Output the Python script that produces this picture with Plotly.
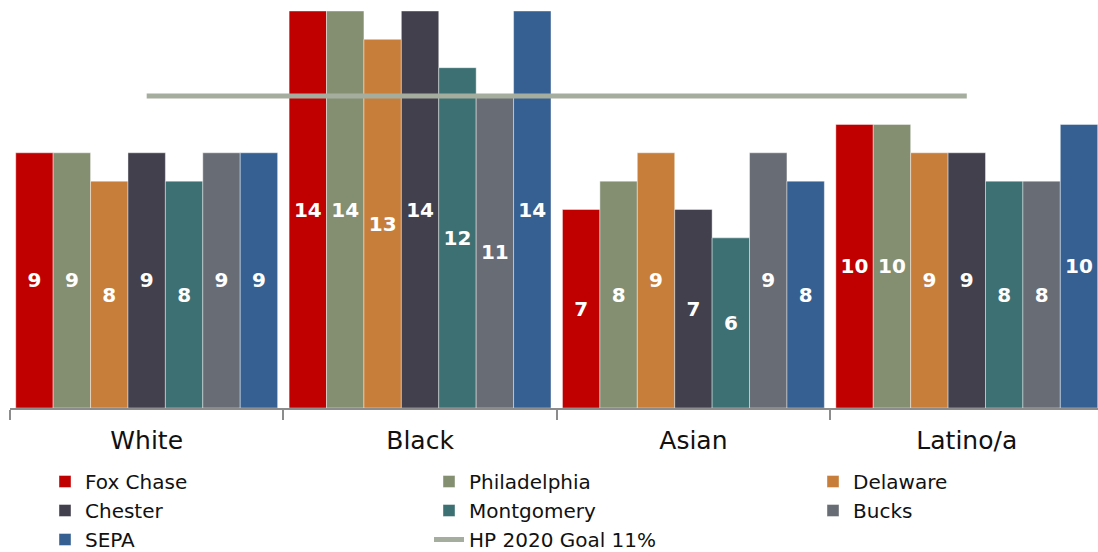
import plotly.graph_objects as go

categories = ["White", "Black", "Asian", "Latino/a"]
series_names = ["Fox Chase", "Philadelphia", "Delaware", "Chester", "Montgomery", "Bucks", "SEPA"]
fox_chase = [9, 14, 7, 10]
philadelphia = [9, 14, 8, 10]
delaware = [8, 13, 9, 9]
chester = [9, 14, 7, 9]
montgomery = [8, 12, 6, 8]
bucks = [9, 11, 9, 8]
sepa = [9, 14, 8, 10]
goal_name = "HP 2020 Goal 11%"
goal_values = [11, 11, 11, 11]

colors = ["#C00000", "#848F72", "#C67E3A", "#43404D", "#3C7073", "#686C74", "#366092"]
goal_color = "#A5AE9E"
FONT = "Century Gothic, DejaVu Sans, sans-serif"
# legend column for each series (reference legend is laid out in 3 columns)
legend_ids = ["legend", "legend2", "legend3", "legend", "legend2", "legend3", "legend"]

fig = go.Figure()
for name, vals, col, lg in zip(series_names,
                               [fox_chase, philadelphia, delaware, chester, montgomery, bucks, sepa],
                               colors, legend_ids):
    fig.add_trace(go.Bar(
        x=categories, y=vals, name=name, legend=lg,
        marker=dict(color=col, line=dict(color="rgba(255,255,255,0.6)", width=0.7)),
        text=[str(v) for v in vals], textposition="inside", insidetextanchor="middle",
        textangle=0, constraintext="none",
        textfont=dict(family=FONT, size=20, color="white", weight="bold"),
        hoverinfo="skip",
    ))

fig.add_trace(go.Scatter(
    x=categories, y=goal_values, name=goal_name, mode="lines", legend="legend2",
    line=dict(color=goal_color, width=5), hoverinfo="skip",
))

W, H = 1098, 552
leg_common = dict(
    orientation="v", xanchor="left", xref="container", yref="container",
    y=1 - 462 / H, yanchor="top",
    font=dict(family=FONT, size=20, color="#111111"),
    itemwidth=30, tracegroupgap=0, traceorder="normal", bgcolor="rgba(0,0,0,0)",
)

fig.update_layout(
    width=W, height=H,
    margin=dict(l=10, r=0, t=11, b=144, autoexpand=False),
    paper_bgcolor="white", plot_bgcolor="white",
    barmode="group", bargap=0.042, bargroupgap=0,
    showlegend=True,
    legend=dict(leg_common, x=45 / W),
    legend2=dict(leg_common, x=429 / W),
    legend3=dict(leg_common, x=813 / W),
    font=dict(family=FONT, color="#111111"),
)
fig.update_xaxes(
    range=[-0.5, 3.48],
    showline=True, linecolor="#8C8C8C", linewidth=1.5,
    ticks="outside", tickson="boundaries", ticklen=10, tickcolor="#8C8C8C", tickwidth=1.5,
    tickfont=dict(family=FONT, size=25, color="#111111"),
    ticklabelstandoff=9,
    showgrid=False, zeroline=False,
)
fig.update_yaxes(range=[0, 14], visible=False, showgrid=False, zeroline=False)

fig.write_html("out.html", config={"displayModeBar": False},
               post_script="document.body.style.margin='0';")
